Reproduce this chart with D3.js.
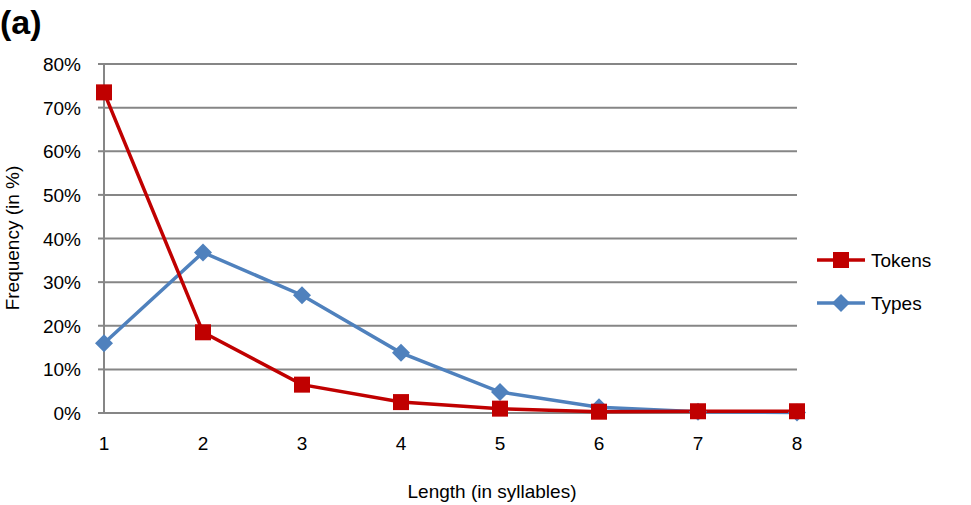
<!DOCTYPE html>
<html><head><meta charset="utf-8">
<script src="https://cdn.jsdelivr.net/npm/d3@7"></script>
<style>body{margin:0;background:#fff}text{font-family:"Liberation Sans",Arial,sans-serif}</style>
</head><body><svg id="c" width="971" height="505"></svg>
<script>
const categories=[1,2,3,4,5,6,7,8];
const tokens=[73.5,18.5,6.5,2.5,1.0,0.3,0.4,0.4];
const types=[16.0,36.8,27.0,13.8,4.8,1.3,0.3,0.1];
const yTicks=[0,10,20,30,40,50,60,70,80];
const svg=d3.select("#c");
const x=d3.scaleLinear().domain([1,8]).range([104,797]);
const y=d3.scaleLinear().domain([0,80]).range([413,64]);
const fs=19;
svg.append("g").selectAll("line").data(yTicks).join("line")
 .attr("x1",104).attr("x2",797).attr("y1",d=>y(d)).attr("y2",d=>y(d))
 .attr("stroke","#868686").attr("stroke-width",2);
svg.append("line").attr("x1",104).attr("x2",104).attr("y1",64).attr("y2",413).attr("stroke","#868686").attr("stroke-width",2);
svg.append("g").selectAll("line").data(yTicks).join("line")
 .attr("x1",98).attr("x2",104).attr("y1",d=>y(d)).attr("y2",d=>y(d)).attr("stroke","#868686").attr("stroke-width",2);
svg.append("g").selectAll("text").data(yTicks).join("text")
 .attr("x",81).attr("y",d=>y(d)+7).attr("text-anchor","end").attr("font-size",fs).text(d=>d+"%");
svg.append("g").selectAll("text").data(categories).join("text")
 .attr("x",d=>x(d)).attr("y",450).attr("text-anchor","middle").attr("font-size",fs).text(d=>d);
svg.append("text").attr("x",492).attr("y",498).attr("text-anchor","middle").attr("font-size",fs).text("Length (in syllables)");
svg.append("text").attr("transform","translate(19,238) rotate(-90)").attr("text-anchor","middle").attr("font-size",fs).text("Frequency (in %)");
svg.append("text").attr("x",0).attr("y",34).attr("font-size",34).attr("font-weight","bold").text("(a)");
const line=d3.line().x((d,i)=>x(categories[i])).y(d=>y(d));
const red="#c00000",blue="#4f81bd";
svg.append("path").datum(types).attr("d",line).attr("fill","none").attr("stroke",blue).attr("stroke-width",3.5);
svg.append("path").datum(tokens).attr("d",line).attr("fill","none").attr("stroke",red).attr("stroke-width",3.5);
const diamond="M0,-9L9,0L0,9L-9,0Z";
svg.append("g").selectAll("path").data(types).join("path")
 .attr("transform",(d,i)=>`translate(${x(categories[i])},${y(d)})`).attr("d",diamond).attr("fill",blue);
svg.append("g").selectAll("rect").data(tokens).join("rect")
 .attr("x",(d,i)=>x(categories[i])-8).attr("y",d=>y(d)-8).attr("width",16).attr("height",16).attr("fill",red);
// legend
svg.append("line").attr("x1",817).attr("x2",865).attr("y1",260).attr("y2",260).attr("stroke",red).attr("stroke-width",3.5);
svg.append("rect").attr("x",833).attr("y",252).attr("width",16).attr("height",16).attr("fill",red);
svg.append("text").attr("x",871).attr("y",267).attr("font-size",fs).text("Tokens");
svg.append("line").attr("x1",817).attr("x2",865).attr("y1",303).attr("y2",303).attr("stroke",blue).attr("stroke-width",3.5);
svg.append("path").attr("transform","translate(841,303)").attr("d",diamond).attr("fill",blue);
svg.append("text").attr("x",871).attr("y",310).attr("font-size",fs).text("Types");
</script></body></html>
